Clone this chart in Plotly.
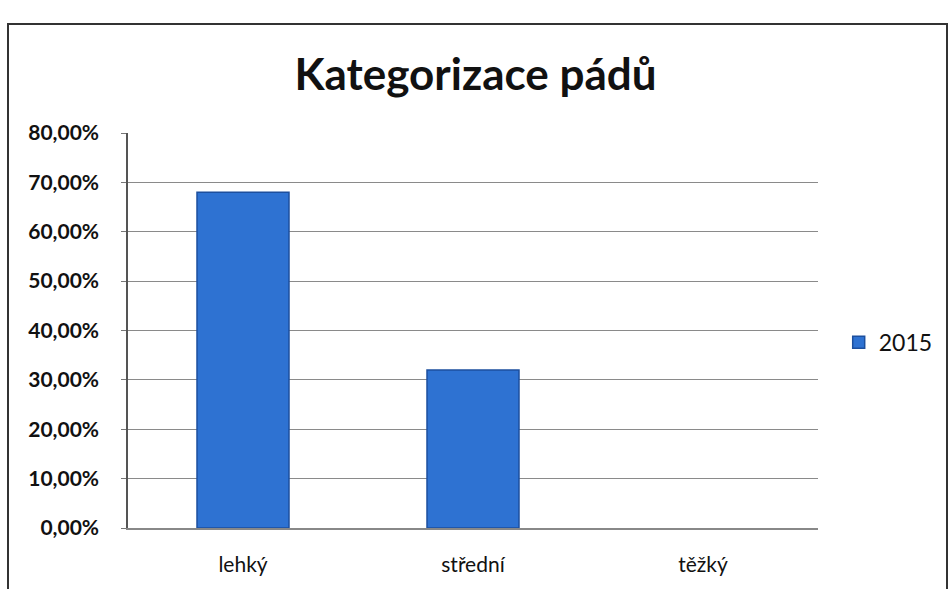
import plotly.graph_objects as go

categories = ["lehký", "střední", "těžký"]
values_2015 = [0.68, 0.32, 0.0]
series_name = "2015"
y_ticks = [0, 0.1, 0.2, 0.3, 0.4, 0.5, 0.6, 0.7, 0.8]

fig = go.Figure()
fig.add_trace(go.Bar(
    x=categories, y=values_2015, name=series_name,
    marker=dict(color="#2e72d2",
                line=dict(color="#1c4f9e", width=[1.5 if v > 0 else 0 for v in values_2015])),
    width=0.4, showlegend=True,
))

fig.update_layout(
    width=951, height=589,
    paper_bgcolor="white", plot_bgcolor="white",
    margin=dict(l=128, r=133, t=133, b=61, autoexpand=False),
    separators=", ",
    title=dict(text="<b>Kategorizace pádů</b>", x=0.5, xanchor="center",
               y=1 - 75/589, yanchor="middle",
               font=dict(family="Lato, Open Sans, sans-serif", size=44, color="#111")),
    font=dict(family="Lato, Open Sans, sans-serif", color="#111"),
    showlegend=True,
    legend=dict(x=1.03, y=0.47, xanchor="left", yanchor="middle", itemwidth=30,
                font=dict(size=23, color="#111"), bgcolor="rgba(0,0,0,0)"),
)
fig.update_yaxes(range=[0, 0.8], tickvals=y_ticks, tickformat=".2%",
                 showgrid=True, gridcolor="#8a8a8a", gridwidth=1,
                 showline=True, linecolor="#555", linewidth=1.5,
                 ticks="outside", ticklen=5, tickcolor="#777", ticklabelstandoff=18,
                 tickfont=dict(size=21, color="#111", family="Lato, sans-serif", weight="bold"),
                 zeroline=False)
fig.update_xaxes(showline=True, linecolor="#888", linewidth=1.5,
                 tickfont=dict(size=21, color="#111"), ticks="", ticklabelstandoff=17)

fig.add_shape(type="rect", xref="paper", yref="paper",
              x0=(8-128)/690, x1=(947-128)/690, y0=(528-595)/395, y1=(528-24)/395,
              line=dict(color="#333", width=2), fillcolor="rgba(0,0,0,0)", layer="below")

fig.write_html("out.html", config={"displayModeBar": False},
               post_script="document.body.style.margin='0';document.body.style.padding='0';")
